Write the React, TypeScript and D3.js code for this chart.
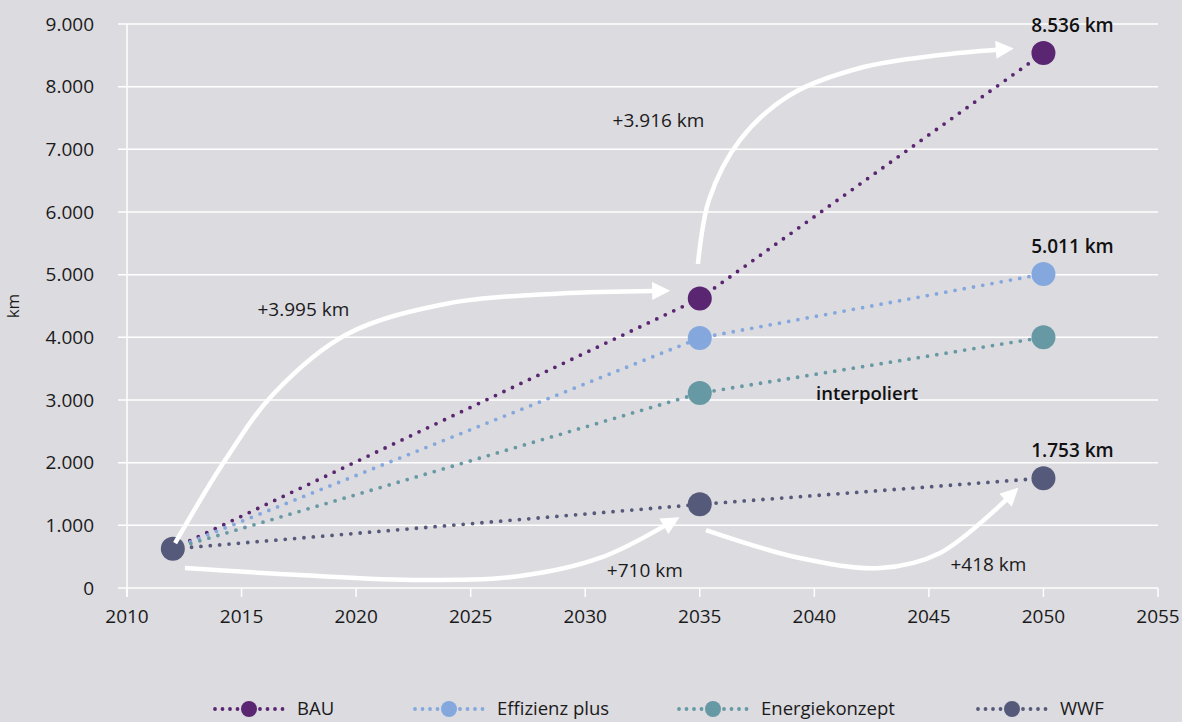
import React from "react";
import * as d3 from "d3";

const years = [2012, 2035, 2050];
const seriesNames = ["BAU", "Effizienz plus", "Energiekonzept", "WWF"];
const bauValues = [625, 4620, 8536];
const effizienzValues = [625, 3990, 5011];
const energieValues = [625, 3110, 4000];
const wwfValues = [625, 1335, 1753];
const seriesColors = ["#5a2571", "#84a8de", "#6699a3", "#555a7b"];
const yTicks = [0, 1000, 2000, 3000, 4000, 5000, 6000, 7000, 8000, 9000];
const xTicks = [2010, 2015, 2020, 2025, 2030, 2035, 2040, 2045, 2050, 2055];

const endLabels = [
  { year: 2050, value: 8536, text: "8.536 km" },
  { year: 2050, value: 5011, text: "5.011 km" },
  { year: 2050, value: 1753, text: "1.753 km" },
];

// annotation arrows in data space [year, km]
const arrow1: [number, number][] = [[2012.1, 718], [2014.3, 2050], [2016.4, 3100], [2019.6, 4050], [2024.0, 4540], [2028.9, 4700], [2033.0, 4740]];
const arrow2: [number, number][] = [[2034.92, 5170], [2035.4, 6191], [2036.76, 7149], [2038.94, 7867], [2041.99, 8298], [2045.49, 8505], [2048.0, 8590]];
const arrow3: [number, number][] = [[2012.53, 319], [2017.55, 207], [2022.79, 128], [2027.15, 191], [2030.64, 479], [2033.5, 1000]];
const arrow4: [number, number][] = [[2035.27, 925], [2039.37, 479], [2042.87, 319], [2045.49, 560], [2048.4, 1420]];

const arrowLabels = [
  { year: 2017.7, value: 4450, text: "+3.995 km" },
  { year: 2033.2, value: 7470, text: "+3.916 km" },
  { year: 2032.6, value: 280, text: "+710 km" },
  { year: 2047.6, value: 380, text: "+418 km" },
];

const W = 1182, H = 722;
const FONT = "'Open Sans', 'Noto Sans', sans-serif";

export default function App() {
  const x = d3.scaleLinear().domain([2010, 2055]).range([127, 1158]);
  const y = d3.scaleLinear().domain([0, 9000]).range([588, 24]);
  const allSeries = [bauValues, effizienzValues, energieValues, wwfValues];
  const line = d3.line<[number, number]>().x((d) => x(d[0])).y((d) => y(d[1]));
  const curve = d3.line<[number, number]>().x((d) => x(d[0])).y((d) => y(d[1])).curve(d3.curveCatmullRom.alpha(0.5));

  const legendX = [213, 413, 677, 976];

  return (
    <svg width={W} height={H} style={{ position: "absolute", left: 0, top: 0, background: "#dcdbe0", fontFamily: FONT }}>
      <defs>
        <marker id="ah" viewBox="0 0 10 10" refX="1" refY="5" markerWidth="4.2" markerHeight="4" orient="auto" markerUnits="strokeWidth">
          <path d="M0,0 L10,5 L0,10 Z" fill="#fff" />
        </marker>
      </defs>
      <rect x={0} y={0} width={W} height={H} fill="#dcdbe0" />
      {yTicks.map((t) => (
        <g key={t}>
          <line x1={118} x2={1158} y1={y(t)} y2={y(t)} stroke="#fff" strokeWidth={1.5} />
          <text x={94} y={y(t)} dy="0.35em" textAnchor="end" fontSize={19} fill="#1a1a1a">
            {d3.format(",")(t).replace(/,/g, ".")}
          </text>
        </g>
      ))}
      <line x1={x(2010)} x2={x(2010)} y1={y(9000)} y2={597} stroke="#fff" strokeWidth={1.5} />
      {xTicks.map((t) => (
        <g key={t}>
          <line x1={x(t)} x2={x(t)} y1={588} y2={597} stroke="#fff" strokeWidth={1.5} />
          <text x={x(t)} y={616} dy="0.35em" textAnchor="middle" fontSize={19} fill="#1a1a1a">{t}</text>
        </g>
      ))}
      <text transform={`translate(19,${y(4500)}) rotate(-90)`} textAnchor="middle" fontSize={17} fill="#1a1a1a">km</text>

      {/* dotted lines */}
      {allSeries.map((vals, i) => (
        <path key={i} d={line(years.map((yr, j) => [yr, vals[j]] as [number, number])) || ""} fill="none"
          stroke={seriesColors[i]} strokeWidth={3.8} strokeLinecap="round" strokeDasharray="0 9.4" />
      ))}
      {allSeries.map((vals, i) =>
        years.slice(1).map((yr, j) => (
          <circle key={`${i}-${j}`} cx={x(yr)} cy={y(vals[j + 1])} r={12} fill={seriesColors[i]} />
        ))
      )}
      <circle cx={x(2012)} cy={y(625)} r={12} fill={seriesColors[3]} />

      {/* arrows */}
      {[arrow1, arrow2, arrow3, arrow4].map((a, i) => (
        <path key={i} d={curve(a) || ""} fill="none" stroke="#fff" strokeWidth={4.5} markerEnd="url(#ah)" />
      ))}
      {arrowLabels.map((l, i) => (
        <text key={i} x={x(l.year)} y={y(l.value)} dy="0.35em" textAnchor="middle" fontSize={19} fill="#1a1a1a">{l.text}</text>
      ))}
      {endLabels.map((l, i) => (
        <text key={i} x={x(l.year) + 29} y={y(l.value) - 21} textAnchor="middle" fontSize={19} fontWeight={600} fill="#111">{l.text}</text>
      ))}
      <text x={x(2042.3)} y={y(3100)} dy="0.35em" textAnchor="middle" fontSize={18.5} fontWeight={600} fill="#111">interpoliert</text>

      {/* legend */}
      {seriesNames.map((n, i) => (
        <g key={n} transform={`translate(${legendX[i]},709)`}>
          <line x1={2} x2={70} y1={0} y2={0} stroke={seriesColors[i]} strokeWidth={3.8} strokeLinecap="round" strokeDasharray="0 7.5" />
          <circle cx={36} cy={0} r={8} fill={seriesColors[i]} />
          <text x={84} y={0} dy="0.35em" fontSize={18.5} fill="#1a1a1a">{n}</text>
        </g>
      ))}
    </svg>
  );
}
